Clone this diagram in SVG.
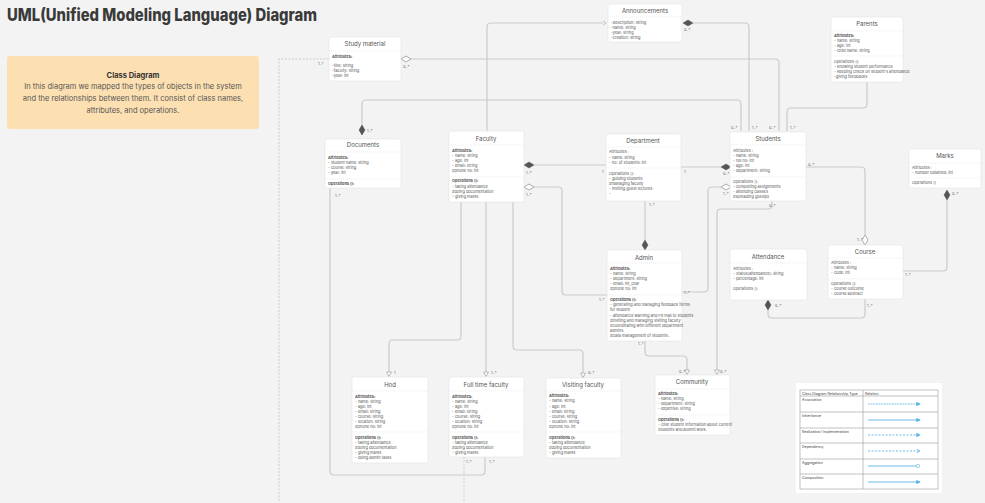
<svg xmlns="http://www.w3.org/2000/svg" width="985" height="503" viewBox="0 0 985 503">
<style>
text{font-family:Inter,"Liberation Sans",Arial,sans-serif}
.box{fill:#fff;stroke:#e4e4e4;stroke-width:0.6}
.sep{stroke:#e6e6e6;stroke-width:0.6;stroke-dasharray:1.2,0.8}
.t{font-size:6px;fill:#555;text-anchor:middle}
.a{font-size:3.9px;fill:#555}
.b{font-weight:700}
.c{fill:none;stroke:#cbcbcb;stroke-width:1.2}
.d{fill:none;stroke:#cbcbcb;stroke-width:1;stroke-dasharray:2,1.5}
.l{font-size:3.8px;fill:#666}
.fd{fill:#555;stroke:#555;stroke-width:0.5}
.hd{fill:#fff;stroke:#999;stroke-width:0.8}
.tri{fill:#fff;stroke:#aaa;stroke-width:0.8}
.lg{stroke:#5ab4e5;stroke-width:0.9;fill:none}
.lt{font-size:3.6px;fill:#444}
</style>
<defs>
<path id="dh" d="M-5,0 L0,-3 L5,0 L0,3 Z"/>
<path id="dv" d="M0,-5 L3,0 L0,5 L-3,0 Z"/>
<path id="ar" d="M-2.5,-3 L2.5,-3 L0,1.5 Z"/>
<marker id="lm" viewBox="0 0 6 6" refX="5" refY="3" markerWidth="5" markerHeight="5" orient="auto"><path d="M0,0 L6,3 L0,6 Z" fill="#5ab4e5"/></marker>
<marker id="lo" viewBox="0 0 6 6" refX="5" refY="3" markerWidth="5" markerHeight="5" orient="auto"><path d="M0,0 L5,3 L0,6" fill="none" stroke="#5ab4e5" stroke-width="1"/></marker>
<marker id="lc" viewBox="0 0 6 6" refX="3" refY="3" markerWidth="5" markerHeight="5" orient="auto"><circle cx="3" cy="3" r="2.2" fill="#fff" stroke="#5ab4e5" stroke-width="0.8"/></marker>
</defs>
<rect width="985" height="503" fill="#f3f3f3"/>

<text x="7" y="21" font-size="17" font-weight="800" fill="#3a3a3a" textLength="310" lengthAdjust="spacingAndGlyphs">UML(Unified Modeling Language) Diagram</text>

<g id="intro">
<rect x="7" y="56" width="252" height="73" rx="3" fill="#fde0b2"/>
<text x="133" y="78" font-size="7.5" font-weight="700" fill="#333" text-anchor="middle">Class Diagram</text>
<text x="133" y="89" font-size="7.5" fill="#555" text-anchor="middle">In this diagram we mapped the types of objects in the system</text>
<text x="133" y="101" font-size="7.5" fill="#555" text-anchor="middle">and the relationships between them. It consist of class names,</text>
<text x="133" y="113" font-size="7.5" fill="#555" text-anchor="middle">attributes, and operations.</text>
</g>

<g id="connectors">
<path class="d" d="M329,59 H279 V503"/>
<path class="c" d="M411,59 H775 Q779,59 779,63 V131"/>
<path class="c" d="M693,23 H745 Q749,23 749,27 V131"/>
<path class="c" d="M487,131 V27 Q487,23 491,23 H603"/>
<path class="c" d="M362,135 V104 Q362,100 366,100 H737 Q741,100 741,104 V131"/>
<path class="c" d="M867,82 V104 Q867,108 863,108 H791 Q787,108 787,112 V131"/>
<path class="c" d="M534,165 H606"/>
<path class="c" d="M681,167 H721"/>
<path class="c" d="M534,187 H558 Q562,187 562,191 V291 Q562,295 566,295 H607"/>
<path class="c" d="M721,187 H712 Q708,187 708,191 V288 Q708,292 704,292 H682"/>
<path class="c" d="M772,201 V205 Q772,209 768,209 H721 Q717,209 717,213 V370"/>
<path class="c" d="M645,341 V352 Q645,356 649,356 H683 Q687,356 687,360 V370"/>
<path class="c" d="M645,201 V240"/>
<path class="c" d="M461,202 V336 Q461,340 457,340 H393 Q389,340 389,344 V372"/>
<path class="c" d="M486,202 V372"/>
<path class="c" d="M513,202 V346 Q513,350 517,350 H579 Q583,350 583,354 V373"/>
<path class="c" d="M330,188 V471 Q330,475 334,475 H481 Q485,475 485,471 V457"/>
<path class="d" d="M464,457 V503"/>
<path class="c" d="M806,167 H861 Q865,167 865,171 V235"/>
<path class="c" d="M947,200 V267 Q947,271 943,271 H903"/>
<path class="c" d="M865,299 V314 Q865,318 861,318 H772 Q768,318 768,314 V310"/>
<use href="#dh" x="406" y="59" class="hd"/>
<use href="#dh" x="688" y="23" class="fd"/>
<use href="#dv" x="362" y="130" class="fd"/>
<use href="#dh" x="529" y="165" class="fd"/>
<use href="#dh" x="529" y="187" class="hd"/>
<use href="#dh" x="726" y="167" class="fd"/>
<use href="#dh" x="726" y="187" class="hd"/>
<use href="#dv" x="645" y="245" class="fd"/>
<use href="#dv" x="768" y="305" class="fd"/>
<use href="#dv" x="865" y="240" class="hd"/>
<use href="#dv" x="947" y="195" class="fd"/>
<use href="#ar" x="389" y="375" class="tri"/>
<use href="#ar" x="486" y="375" class="tri"/>
<use href="#ar" x="583" y="376" class="tri"/>
<use href="#ar" x="687" y="373" class="tri"/>
<use href="#ar" x="717" y="373" class="tri"/>
<path d="M603,21 L606,23 L603,25" fill="none" stroke="#aaa" stroke-width="0.7"/>
<text class="l" x="318" y="65">1..*</text>
<text class="l" x="403" y="68">0..*</text>
<text class="l" x="684" y="31">0..*</text>
<text class="l" x="367" y="132">1..*</text>
<text class="l" x="526" y="174">1..*</text>
<text class="l" x="526" y="196">1..*</text>
<text class="l" x="602" y="173">1</text>
<text class="l" x="684" y="173">1</text>
<text class="l" x="723" y="175">0..*</text>
<text class="l" x="723" y="195">1..*</text>
<text class="l" x="731" y="129">0..*</text>
<text class="l" x="752" y="129">1..*</text>
<text class="l" x="769" y="129">0..*</text>
<text class="l" x="790" y="129">1..*</text>
<text class="l" x="808" y="166">0..*</text>
<text class="l" x="649" y="206">1..*</text>
<text class="l" x="769" y="207">0..*</text>
<text class="l" x="599" y="301">1..*</text>
<text class="l" x="684" y="294">1..*</text>
<text class="l" x="638" y="345">1..*</text>
<text class="l" x="775" y="307">0..*</text>
<text class="l" x="857" y="241">1..*</text>
<text class="l" x="952" y="195">0..*</text>
<text class="l" x="905" y="276">1..*</text>
<text class="l" x="867" y="307">1..*</text>
<text class="l" x="394" y="374">1</text>
<text class="l" x="491" y="374">1..*</text>
<text class="l" x="588" y="374">0..*</text>
<text class="l" x="679" y="373">0..*</text>
<text class="l" x="720" y="373">0..*</text>
<text class="l" x="335" y="197">1..*</text>
<text class="l" x="466" y="463">1..*</text>
<text class="l" x="489" y="463">1..*</text>
</g>

<g id="study-material">
<rect class="box" x="329" y="37" width="72" height="44" rx="2"/>
<text class="t" x="365" y="46">Study material</text>
<line class="sep" x1="329" y1="51" x2="401" y2="51"/>
<text class="a b" x="332" y="58">Attributes:</text>
<text class="a" x="332" y="67">-title: string</text>
<text class="a" x="332" y="72">-faculty: string</text>
<text class="a" x="332" y="77">-year: int</text>
</g>

<g id="announcements">
<rect class="box" x="608" y="4" width="74" height="38" rx="2"/>
<text class="t" x="645" y="12.5">Announcements</text>
<line class="sep" x1="608" y1="17" x2="682" y2="17"/>
<text class="a" x="611" y="24">-description: string</text>
<text class="a" x="611" y="29">-name: string</text>
<text class="a" x="611" y="34">-year: string</text>
<text class="a" x="611" y="39">-creation: string</text>
</g>

<g id="parents">
<rect class="box" x="831" y="17" width="72" height="65" rx="2"/>
<text class="t" x="867" y="26">Parents</text>
<line class="sep" x1="831" y1="31" x2="903" y2="31"/>
<text class="a b" x="834" y="37">Attributes:</text>
<text class="a" x="834" y="42">- name: string</text>
<text class="a" x="834" y="47">- age: int</text>
<text class="a" x="834" y="52">- child name: string</text>
<line class="sep" x1="831" y1="56" x2="903" y2="56"/>
<text class="a" x="834" y="63">Operations ():</text>
<text class="a" x="834" y="68">- Knowing student performance</text>
<text class="a" x="834" y="73">- Keeping check on student's attendance</text>
<text class="a" x="834" y="78">-giving feedbacks</text>
</g>

<g id="documents">
<rect class="box" x="325" y="139" width="76" height="49" rx="2"/>
<text class="t" x="363" y="147">Documents</text>
<line class="sep" x1="325" y1="152" x2="401" y2="152"/>
<text class="a b" x="328" y="159">Attributes:</text>
<text class="a" x="328" y="164">- student name: string</text>
<text class="a" x="328" y="169">- course: string</text>
<text class="a" x="328" y="174">- year: int</text>
<line class="sep" x1="325" y1="179" x2="401" y2="179"/>
<text class="a b" x="328" y="185">Operations ():</text>
</g>

<g id="faculty">
<rect class="box" x="449" y="131" width="75" height="71" rx="2"/>
<text class="t" x="486" y="141">Faculty</text>
<line class="sep" x1="449" y1="145" x2="524" y2="145"/>
<text class="a b" x="452" y="152">Attributes:</text>
<text class="a" x="452" y="157">- name: string</text>
<text class="a" x="452" y="162">- age: int</text>
<text class="a" x="452" y="167">- email: string</text>
<text class="a" x="452" y="172">#phone no: int</text>
<line class="sep" x1="449" y1="177" x2="524" y2="177"/>
<text class="a b" x="452" y="182">Operations ():</text>
<text class="a" x="452" y="188">- taking attendance</text>
<text class="a" x="452" y="193">#doing documentation</text>
<text class="a" x="452" y="198">- giving marks</text>
</g>

<g id="department">
<rect class="box" x="606" y="134" width="75" height="67" rx="2"/>
<text class="t" x="643" y="143">Department</text>
<line class="sep" x1="606" y1="147" x2="681" y2="147"/>
<text class="a" x="609" y="153">Attributes :</text>
<text class="a" x="609" y="159">- name: string</text>
<text class="a" x="609" y="164">- no. of students: int</text>
<line class="sep" x1="606" y1="168" x2="681" y2="168"/>
<text class="a" x="609" y="175">Operations ():</text>
<text class="a" x="609" y="180">- guiding students</text>
<text class="a" x="609" y="185">#managing faculty</text>
<text class="a" x="609" y="190">- inviting guest lectures</text>
<text class="a" x="609" y="195">-</text>
</g>

<g id="students">
<rect class="box" x="730" y="132" width="76" height="69" rx="2"/>
<text class="t" x="768" y="141">Students</text>
<line class="sep" x1="730" y1="145" x2="806" y2="145"/>
<text class="a" x="733" y="152">Attributes :</text>
<text class="a" x="733" y="157">- name: string</text>
<text class="a" x="733" y="162">- roll no: int</text>
<text class="a" x="733" y="167">- age: int</text>
<text class="a" x="733" y="172">- department: string</text>
<line class="sep" x1="730" y1="177" x2="806" y2="177"/>
<text class="a" x="733" y="183">Operations ():</text>
<text class="a" x="733" y="188">- completing assignments</text>
<text class="a" x="733" y="193">- attending classes</text>
<text class="a" x="733" y="198">#spreading gossips</text>
</g>

<g id="marks">
<rect class="box" x="909" y="149" width="72" height="39" rx="2"/>
<text class="t" x="945" y="158">Marks</text>
<line class="sep" x1="909" y1="163" x2="981" y2="163"/>
<text class="a" x="912" y="169">Attributes :</text>
<text class="a" x="912" y="174">- number obtained: int</text>
<line class="sep" x1="909" y1="178" x2="981" y2="178"/>
<text class="a" x="912" y="184">Operations ()</text>
</g>

<g id="admin">
<rect class="box" x="607" y="250" width="75" height="91" rx="2"/>
<text class="t" x="644" y="260">Admin</text>
<line class="sep" x1="607" y1="263" x2="682" y2="263"/>
<text class="a b" x="610" y="270">Attributes:</text>
<text class="a" x="610" y="275">- name: string</text>
<text class="a" x="610" y="280">- department: string</text>
<text class="a" x="610" y="285">- email: int_char</text>
<text class="a" x="610" y="290">#phone no: int</text>
<line class="sep" x1="607" y1="295" x2="682" y2="295"/>
<text class="a b" x="610" y="301">Operations ():</text>
<text class="a" x="610" y="306">- generating and managing feedback forms</text>
<text class="a" x="610" y="311">for student</text>
<text class="a" x="610" y="317">- attendance warning and FR mail to students</text>
<text class="a" x="610" y="322">#inviting and managing visiting faculty</text>
<text class="a" x="610" y="327">#coordinating with different department</text>
<text class="a" x="610" y="332">admins</text>
<text class="a" x="610" y="337">#Data management of students..</text>
</g>

<g id="attendance">
<rect class="box" x="730" y="249" width="77" height="51" rx="2"/>
<text class="t" x="768" y="259">Attendance</text>
<line class="sep" x1="730" y1="263" x2="807" y2="263"/>
<text class="a" x="733" y="270">Attributes :</text>
<text class="a" x="733" y="275">- Status(attendance): string</text>
<text class="a" x="733" y="280">- percentage: int</text>
<text class="a" x="733" y="289.5">Operations ():</text>
</g>

<g id="course">
<rect class="box" x="828" y="245" width="75" height="54" rx="2"/>
<text class="t" x="865" y="254">Course</text>
<line class="sep" x1="828" y1="258" x2="903" y2="258"/>
<text class="a" x="831" y="264">Attributes :</text>
<text class="a" x="831" y="269">- name: string</text>
<text class="a" x="831" y="274">- code: int</text>
<line class="sep" x1="828" y1="279" x2="903" y2="279"/>
<text class="a" x="831" y="285">Operations ():</text>
<text class="a" x="831" y="290">- course outcome</text>
<text class="a" x="831" y="295">- course abstract</text>
</g>

<g id="hod">
<rect class="box" x="352" y="377" width="76" height="86" rx="2"/>
<text class="t" x="390" y="387">Hod</text>
<line class="sep" x1="352" y1="391" x2="428" y2="391"/>
<text class="a b" x="355" y="398">Attributes:</text>
<text class="a" x="355" y="403">- name: string</text>
<text class="a" x="355" y="408">- age: int</text>
<text class="a" x="355" y="413">- email: string</text>
<text class="a" x="355" y="418">- course: string</text>
<text class="a" x="355" y="423">- location: string</text>
<text class="a" x="355" y="428">#phone no: int</text>
<line class="sep" x1="352" y1="432" x2="428" y2="432"/>
<text class="a b" x="355" y="439">Operations ():</text>
<text class="a" x="355" y="444">- taking attendance</text>
<text class="a" x="355" y="449">#doing documentation</text>
<text class="a" x="355" y="454">- giving marks</text>
<text class="a" x="355" y="459">- doing admin tasks</text>
</g>

<g id="full-time-faculty">
<rect class="box" x="449" y="377" width="75" height="80" rx="2"/>
<text class="t" x="486" y="387">Full time faculty</text>
<line class="sep" x1="449" y1="391" x2="524" y2="391"/>
<text class="a b" x="452" y="398">Attributes:</text>
<text class="a" x="452" y="403">- name: string</text>
<text class="a" x="452" y="408">- age: int</text>
<text class="a" x="452" y="413">- email: string</text>
<text class="a" x="452" y="418">- course: string</text>
<text class="a" x="452" y="423">- location: string</text>
<text class="a" x="452" y="428">#phone no: int</text>
<line class="sep" x1="449" y1="432" x2="524" y2="432"/>
<text class="a b" x="452" y="439">Operations ():</text>
<text class="a" x="452" y="444">- taking attendance</text>
<text class="a" x="452" y="449">#doing documentation</text>
<text class="a" x="452" y="454">- giving marks</text>
</g>

<g id="visiting-faculty">
<rect class="box" x="546" y="378" width="75" height="80" rx="2"/>
<text class="t" x="583" y="387">Visiting faculty</text>
<line class="sep" x1="546" y1="391" x2="621" y2="391"/>
<text class="a b" x="549" y="397">Attributes:</text>
<text class="a" x="549" y="402">- name: string</text>
<text class="a" x="549" y="408">- age: int</text>
<text class="a" x="549" y="413">- email: string</text>
<text class="a" x="549" y="418">- course: string</text>
<text class="a" x="549" y="423">- location: string</text>
<text class="a" x="549" y="428">#phone no: int</text>
<line class="sep" x1="546" y1="432" x2="621" y2="432"/>
<text class="a b" x="549" y="439">Operations ():</text>
<text class="a" x="549" y="444">- taking attendance</text>
<text class="a" x="549" y="449">#doing documentation</text>
<text class="a" x="549" y="454">- giving marks</text>
</g>

<g id="community">
<rect class="box" x="655" y="375" width="75" height="60" rx="2"/>
<text class="t" x="692" y="384">Community</text>
<line class="sep" x1="655" y1="389" x2="730" y2="389"/>
<text class="a b" x="658" y="395">Attributes:</text>
<text class="a" x="658" y="400">- name: string</text>
<text class="a" x="658" y="405">- department: string</text>
<text class="a" x="658" y="410">- expertise: string</text>
<line class="sep" x1="655" y1="415" x2="730" y2="415"/>
<text class="a b" x="658" y="421">Operations ():</text>
<text class="a" x="658" y="426">- Give student information about current</text>
<text class="a" x="658" y="431">Students and alumni work.</text>
</g>

<g id="legend">
<rect x="796" y="383" width="146" height="110" fill="#fff"/>
<rect x="800" y="390" width="138" height="99" fill="none" stroke="#999" stroke-width="0.6"/>
<line x1="863" y1="390" x2="863" y2="489" stroke="#999" stroke-width="0.6"/>
<g stroke="#999" stroke-width="0.6">
<line x1="800" y1="396" x2="938" y2="396"/>
<line x1="800" y1="412" x2="938" y2="412"/>
<line x1="800" y1="428" x2="938" y2="428"/>
<line x1="800" y1="443" x2="938" y2="443"/>
<line x1="800" y1="459" x2="938" y2="459"/>
<line x1="800" y1="474" x2="938" y2="474"/>
</g>
<text class="lt" x="802" y="394.5">Class Diagram Relationship Type</text>
<text class="lt" x="865" y="394.5">Relation</text>
<text class="lt" x="802" y="401">Association</text>
<text class="lt" x="802" y="416.5">Inheritance</text>
<text class="lt" x="802" y="432.5">Realization/ Implementation</text>
<text class="lt" x="802" y="448">Dependency</text>
<text class="lt" x="802" y="463.5">Aggregation</text>
<text class="lt" x="802" y="479">Composition</text>
<line class="lg" x1="868" y1="404" x2="920" y2="404" stroke-dasharray="1,0.6" marker-end="url(#lm)"/>
<line class="lg" x1="868" y1="420" x2="920" y2="420" marker-end="url(#lm)"/>
<line class="lg" x1="868" y1="435" x2="920" y2="435" stroke-dasharray="2,1.5" marker-end="url(#lm)"/>
<line class="lg" x1="868" y1="451" x2="920" y2="451" stroke-dasharray="2,1.5" marker-end="url(#lo)"/>
<line class="lg" x1="868" y1="466" x2="918" y2="466" marker-end="url(#lc)"/>
<line class="lg" x1="868" y1="482" x2="920" y2="482" stroke-width="1.3" marker-end="url(#lm)"/>
</g>
</svg>
